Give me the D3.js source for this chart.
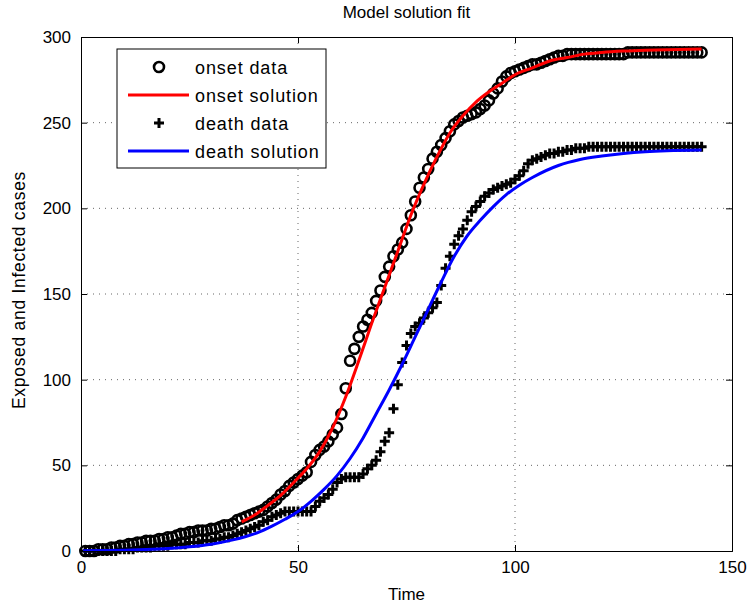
<!DOCTYPE html>
<html>
<head>
<meta charset="utf-8">
<script src="https://cdn.jsdelivr.net/npm/d3@7"></script>
<style>
  body { margin: 0; background: #fff; }
  svg text { font-family: "Liberation Sans", Arial, Helvetica, sans-serif; }
</style>
</head>
<body>
<div id="chart"></div>
<script>
// days of observation
const days = d3.range(1, 144);

// cumulative onset data (circles)
const onsetData = [
  0, 0, 0, 1, 1, 1, 2, 2, 3, 3,
  4, 4, 5, 5, 6, 6, 6, 7, 7, 8,
  8, 9, 10, 10, 11, 11, 12, 12, 12, 13,
  13, 14, 15, 15, 16, 18, 19, 20, 21, 22,
  23, 24, 26, 28, 30, 33, 35, 38, 40, 42,
  44, 46, 52, 56, 59, 61, 64, 68, 72, 80,
  95, 111, 118, 125, 131, 135, 139, 146, 152, 160,
  166, 172, 176, 180, 188, 196, 204, 212, 218, 223,
  229, 233, 237, 241, 245, 249, 251, 253, 254, 255,
  256, 258, 260, 263, 267, 270, 274, 277, 279, 280,
  281, 282, 283, 284, 284, 285, 286, 287, 288, 289,
  289, 290, 290, 290, 290, 290, 290, 290, 290, 290,
  290, 290, 290, 290, 290, 291, 291, 291, 291, 291,
  291, 291, 291, 291, 291, 291, 291, 291, 291, 291,
  291, 291, 291
];

// cumulative death data (plus markers)
const deathData = [
  0, 0, 0, 0, 0, 0, 0, 0, 1, 1,
  1, 1, 2, 2, 2, 2, 3, 3, 3, 3,
  4, 4, 4, 4, 5, 5, 5, 6, 6, 6,
  7, 7, 8, 8, 9, 10, 11, 12, 13, 14,
  15, 17, 18, 20, 21, 22, 23, 23, 23, 23,
  23, 23, 23, 26, 29, 31, 33, 36, 40, 42,
  43, 43, 43, 43, 45, 48, 50, 53, 58, 64,
  69, 83, 97, 110, 120, 127, 131, 133, 136, 139,
  142, 145, 155, 165, 172, 179, 184, 188, 193, 198,
  201, 204, 207, 209, 211, 212, 213, 214, 215, 217,
  219, 222, 226, 228, 229, 230, 231, 232, 232, 233,
  233, 234, 234, 235, 235, 235, 236, 236, 236, 236,
  236, 236, 236, 236, 236, 236, 236, 236, 236, 236,
  236, 236, 236, 236, 236, 236, 236, 236, 236, 236,
  236, 236, 236
];

// model solutions
const onsetSolT = [37, 40, 43, 46, 49, 52, 55, 58, 61, 64, 67, 70, 73, 76, 79, 82, 85, 88, 91, 94, 97, 100, 104, 108, 112, 116, 120, 125, 130, 135, 143];
const onsetSolV = [17, 21, 26.5, 32.5, 40, 48, 58, 72, 90, 111, 133, 154, 175, 196, 214, 230, 244, 254, 262, 268, 273, 278, 282, 286, 288, 290, 291, 291.8, 292.3, 292.6, 293];

const deathSolT = [0.5, 5, 10, 15, 20, 25, 30, 35, 38, 41, 44, 47, 50, 53, 56, 59, 62, 65, 68, 71, 74, 77, 80, 83, 86, 89, 92, 95, 98, 101, 104, 110, 115, 120, 125, 130, 135, 143];
const deathSolV = [0.2, 0.3, 0.5, 0.9, 1.5, 2.5, 4, 6.5, 8.5, 11, 14.5, 18.5, 23, 29, 36, 44, 54, 66, 80, 94, 109, 125, 141, 157, 172, 184, 193, 201, 208, 213.5, 218, 225, 228.5, 230.5, 232, 233, 233.6, 234];

const xTicks = [0, 50, 100, 150];
const yTicks = [0, 50, 100, 150, 200, 250, 300];
const legendLabels = ["onset data", "onset solution", "death data", "death solution"];

const width = 752, height = 606;
const margin = { left: 81, right: 20, top: 37, bottom: 55 };
const w = width - margin.left - margin.right;
const h = height - margin.top - margin.bottom;

const svg = d3.select("#chart").append("svg")
  .attr("width", width)
  .attr("height", height);

const x = d3.scaleLinear().domain([0, 150]).range([0, w]);
const y = d3.scaleLinear().domain([0, 300]).range([h, 0]);

const g = svg.append("g").attr("transform", `translate(${margin.left},${margin.top})`);

g.append("rect").attr("width", w).attr("height", h).attr("fill", "#fff");

// dotted grid
g.append("g").selectAll("line")
  .data(xTicks.slice(1, -1))
  .enter().append("line")
  .attr("x1", d => x(d)).attr("x2", d => x(d))
  .attr("y1", 0).attr("y2", h)
  .attr("stroke", "#666").attr("stroke-width", 1)
  .attr("stroke-dasharray", "1,5");
g.append("g").selectAll("line")
  .data(yTicks.slice(1, -1))
  .enter().append("line")
  .attr("y1", d => y(d)).attr("y2", d => y(d))
  .attr("x1", 0).attr("x2", w)
  .attr("stroke", "#666").attr("stroke-width", 1)
  .attr("stroke-dasharray", "1,5");

// data + solutions, in matlab plot order
g.append("g").selectAll("circle")
  .data(days)
  .enter().append("circle")
  .attr("cx", d => x(d))
  .attr("cy", (d, i) => y(onsetData[i]))
  .attr("r", 5)
  .attr("fill", "none")
  .attr("stroke", "#000")
  .attr("stroke-width", 2.6);

const line = d3.line().curve(d3.curveMonotoneX);

g.append("path")
  .attr("d", line(onsetSolT.map((t, i) => [x(t), y(onsetSolV[i])])))
  .attr("fill", "none").attr("stroke", "#ff0000").attr("stroke-width", 3);

const plus = "M-5,0H5M0,-5V5";
g.append("g").selectAll("path")
  .data(days)
  .enter().append("path")
  .attr("d", plus)
  .attr("transform", (d, i) => `translate(${x(d)},${y(deathData[i])})`)
  .attr("fill", "none").attr("stroke", "#000").attr("stroke-width", 3);

g.append("path")
  .attr("d", line(deathSolT.map((t, i) => [x(t), y(deathSolV[i])])))
  .attr("fill", "none").attr("stroke", "#0000ff").attr("stroke-width", 3);

// axes, ticks pointing inwards
const xAxis = g.append("g").attr("transform", `translate(0,${h})`)
  .call(d3.axisBottom(x).tickValues(xTicks).tickSize(-6).tickPadding(10));
const yAxis = g.append("g")
  .call(d3.axisLeft(y).tickValues(yTicks).tickSize(-6).tickPadding(10));
g.append("g")
  .call(d3.axisTop(x).tickValues(xTicks).tickSize(-6).tickFormat(""));
g.append("g").attr("transform", `translate(${w},0)`)
  .call(d3.axisRight(y).tickValues(yTicks).tickSize(-6).tickFormat(""));

g.selectAll(".domain").attr("stroke", "#000").attr("stroke-width", 1);
g.selectAll(".tick line").attr("stroke", "#000");
[xAxis, yAxis].forEach(a => a.selectAll("text")
  .attr("fill", "#000").style("font-size", "17px"));

// title and axis labels
svg.append("text")
  .attr("x", margin.left + w / 2).attr("y", 18)
  .attr("text-anchor", "middle")
  .style("font-size", "17px")
  .text("Model solution fit");

svg.append("text")
  .attr("x", margin.left + w / 2).attr("y", 600)
  .attr("text-anchor", "middle")
  .style("font-size", "17px")
  .text("Time");

svg.append("text")
  .attr("transform", `translate(25,${margin.top + h / 2 - 4}) rotate(-90)`)
  .attr("text-anchor", "middle")
  .style("font-size", "17.5px")
  .style("letter-spacing", "0.7px")
  .text("Exposed and Infected cases");

// legend
const legend = svg.append("g").attr("transform", "translate(117,49)");
legend.append("rect")
  .attr("width", 209).attr("height", 119)
  .attr("fill", "#fff").attr("stroke", "#000").attr("stroke-width", 1);

const rows = legend.selectAll("g.row")
  .data(legendLabels)
  .enter().append("g")
  .attr("class", "row")
  .attr("transform", (d, i) => `translate(0,${18 + i * 28})`);

rows.append("text")
  .attr("x", 78).attr("y", 6.5)
  .style("font-size", "18px")
  .style("letter-spacing", "0.9px")
  .text(d => d);

rows.each(function (d, i) {
  const r = d3.select(this);
  if (i === 0) {
    r.append("circle").attr("cx", 42).attr("cy", 0).attr("r", 5)
      .attr("fill", "none").attr("stroke", "#000").attr("stroke-width", 2.6);
  } else if (i === 2) {
    r.append("path").attr("d", plus).attr("transform", "translate(42,0)")
      .attr("stroke", "#000").attr("stroke-width", 3);
  } else {
    r.append("line").attr("x1", 11).attr("x2", 72).attr("y1", 0).attr("y2", 0)
      .attr("stroke", i === 1 ? "#ff0000" : "#0000ff").attr("stroke-width", 3);
  }
});
</script>
</body>
</html>
